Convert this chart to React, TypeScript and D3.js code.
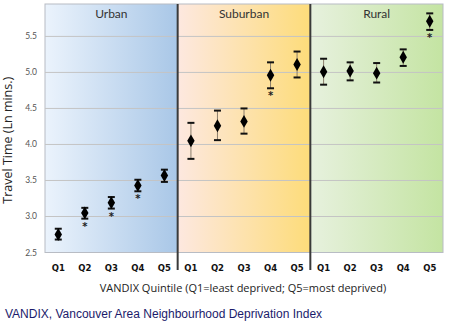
import React from "react";
import * as d3 from "d3";

const groups = ["Urban", "Suburban", "Rural"];
const quintiles = ["Q1", "Q2", "Q3", "Q4", "Q5"];
const urbanMean = [2.75, 3.05, 3.19, 3.43, 3.57];
const urbanLow = [2.68, 2.97, 3.11, 3.35, 3.48];
const urbanHigh = [2.83, 3.12, 3.27, 3.51, 3.65];
const urbanSig = [false, true, true, true, false];
const suburbanMean = [4.05, 4.26, 4.32, 4.96, 5.11];
const suburbanLow = [3.8, 4.06, 4.15, 4.78, 4.93];
const suburbanHigh = [4.3, 4.47, 4.5, 5.14, 5.29];
const suburbanSig = [false, false, false, true, false];
const ruralMean = [5.01, 5.02, 4.99, 5.21, 5.71];
const ruralLow = [4.83, 4.89, 4.86, 5.09, 5.59];
const ruralHigh = [5.19, 5.14, 5.13, 5.32, 5.82];
const ruralSig = [false, false, false, false, true];
const yTicks = [2.5, 3.0, 3.5, 4.0, 4.5, 5.0, 5.5];

const means = [urbanMean, suburbanMean, ruralMean];
const lows = [urbanLow, suburbanLow, ruralLow];
const highs = [urbanHigh, suburbanHigh, ruralHigh];
const sigs = [urbanSig, suburbanSig, ruralSig];
const gradients = [
  ["#ebf3fc", "#a9c7e7"],
  ["#fde8e0", "#fddc7a"],
  ["#e7f1de", "#c4e4a2"],
];

export default function App() {
  const W = 449, H = 327;
  const left = 45, right = 443, top = 4, bottom = 252.5;
  const y = d3.scaleLinear().domain([2.5, 5.95]).range([bottom, top]);
  const keys = groups.flatMap((g) => quintiles.map((q) => g + "-" + q));
  const x = d3.scaleBand().domain(keys).range([left, right]).padding(0);
  const gx = d3.scaleBand().domain(groups).range([left, right]).padding(0);
  const diamond = d3.symbol().type(d3.symbolDiamond).size(48)();
  const font = "'DejaVu Sans', sans-serif";

  return (
    <svg width={W} height={H} style={{ position: "absolute", left: 0, top: 0 }}>
      <defs>
        {gradients.map((c, i) => (
          <linearGradient key={i} id={"g" + i} x1="0" x2="1" y1="0" y2="0">
            <stop offset="0%" stopColor={c[0]} />
            <stop offset="100%" stopColor={c[1]} />
          </linearGradient>
        ))}
      </defs>
      {groups.map((g, i) => (
        <rect key={g} x={gx(g)} y={top} width={gx.bandwidth()} height={bottom - top} fill={`url(#g${i})`} />
      ))}
      <rect x={left} y={top} width={right - left} height={bottom - top} fill="none" stroke="#b8bcc4" strokeWidth={1} />
      {yTicks.map((t) => (
        <g key={t}>
          {t > 2.5 && (
            <line x1={left} x2={right} y1={y(t)} y2={y(t)} stroke="#c4c4c4" strokeWidth={1} />
          )}
          <text x={37} y={y(t) + 3} textAnchor="end" fontFamily="Lato, sans-serif" fontSize={8.5} fill="#555">
            {t.toFixed(1)}
          </text>
        </g>
      ))}
      {groups.slice(1).map((g) => (
        <line key={g} x1={gx(g)} x2={gx(g)} y1={top} y2={270} stroke="#3a3a3a" strokeWidth={2} />
      ))}
      {groups.map((g) => (
        <text key={g} x={(gx(g) as number) + gx.bandwidth() / 2} y={18} textAnchor="middle" fontFamily="Lato, sans-serif" fontSize={12} fill="#333">
          {g}
        </text>
      ))}
      {groups.map((g, gi) =>
        quintiles.map((q, qi) => {
          const cx = (x(g + "-" + q) as number) + x.bandwidth() / 2;
          const m = means[gi][qi], lo = lows[gi][qi], hi = highs[gi][qi];
          return (
            <g key={g + q}>
              <line x1={cx} x2={cx} y1={y(hi)} y2={y(lo)} stroke="#8a7d6a" strokeWidth={1} />
              <line x1={cx - 3.5} x2={cx + 3.5} y1={y(hi)} y2={y(hi)} stroke="#111" strokeWidth={2} />
              <line x1={cx - 3.5} x2={cx + 3.5} y1={y(lo)} y2={y(lo)} stroke="#111" strokeWidth={2} />
              <path d={diamond as string} transform={`translate(${cx},${y(m)})`} fill="#000" />
              {sigs[gi][qi] && (
                <text x={cx} y={y(lo) + 11} textAnchor="middle" fontFamily={font} fontWeight="bold" fontSize={10} fill="#222">
                  *
                </text>
              )}
              <text x={cx} y={271} textAnchor="middle" fontFamily={font} fontWeight="bold" fontSize={8.5} fill="#111">
                {q}
              </text>
            </g>
          );
        })
      )}
      <text transform={`translate(12,${(top + bottom) / 2 + 12}) rotate(-90)`} textAnchor="middle" fontFamily="'Open Sans', sans-serif" fontSize={12.5} fill="#222">
        Travel Time (Ln mins.)
      </text>
      <text x={243} y={292} textAnchor="middle" fontFamily="'Open Sans', sans-serif" fontSize={11} fill="#222">
        VANDIX Quintile (Q1=least deprived; Q5=most deprived)
      </text>
      <text x={5} y={318} fontFamily="'Liberation Sans', Arial, sans-serif" fontSize={12} fill="#1b1b6b">
        VANDIX, Vancouver Area Neighbourhood Deprivation Index
      </text>
    </svg>
  );
}
